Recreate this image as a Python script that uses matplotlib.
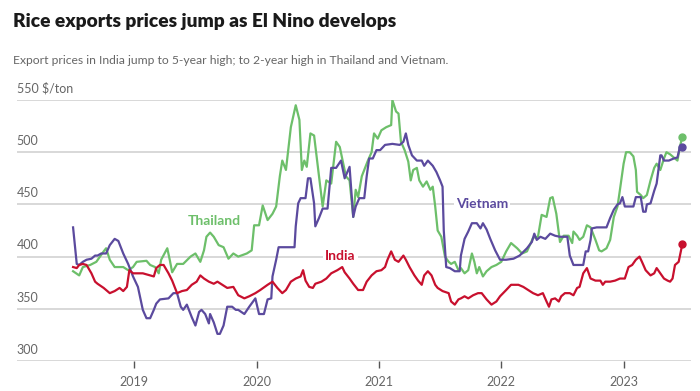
import matplotlib
matplotlib.use("Agg")
import matplotlib.pyplot as plt

# ---------------- data (decimal year, $/ton) ----------------
thai_t = [2018.50, 2018.55, 2018.58, 2018.64, 2018.69, 2018.75, 2018.77, 2018.80, 2018.84,
          2018.91, 2018.95, 2018.99, 2019.02, 2019.10, 2019.13, 2019.17, 2019.20, 2019.22,
          2019.27, 2019.29, 2019.31, 2019.35, 2019.40, 2019.46, 2019.50, 2019.54, 2019.57,
          2019.59, 2019.62, 2019.65, 2019.69, 2019.73, 2019.77, 2019.81, 2019.85, 2019.92,
          2019.96, 2019.98, 2020.02, 2020.05, 2020.09, 2020.13, 2020.16, 2020.19, 2020.21,
          2020.24, 2020.28, 2020.32, 2020.35, 2020.37, 2020.39, 2020.41, 2020.44, 2020.47,
          2020.51, 2020.54, 2020.57, 2020.61, 2020.65, 2020.68, 2020.73,
          2020.76, 2020.79, 2020.81, 2020.83, 2020.86, 2020.88, 2020.91, 2020.94, 2020.96,
          2020.99, 2021.02, 2021.06, 2021.10, 2021.11, 2021.14, 2021.16, 2021.18, 2021.21,
          2021.24, 2021.26, 2021.28, 2021.31, 2021.33, 2021.36, 2021.39, 2021.42, 2021.44,
          2021.46, 2021.48, 2021.51, 2021.54, 2021.57, 2021.59, 2021.62, 2021.65, 2021.67,
          2021.70, 2021.73, 2021.76, 2021.78, 2021.80, 2021.82, 2021.85, 2021.88, 2021.92,
          2021.96, 2022.00, 2022.04, 2022.08, 2022.13, 2022.17, 2022.21, 2022.26, 2022.30,
          2022.33, 2022.37, 2022.40, 2022.42, 2022.45, 2022.48, 2022.51, 2022.55, 2022.58,
          2022.59, 2022.62, 2022.64, 2022.67, 2022.70, 2022.73, 2022.77, 2022.80, 2022.82,
          2022.86, 2022.89, 2022.92, 2022.95, 2022.97, 2023.00, 2023.02, 2023.05, 2023.08,
          2023.10, 2023.11, 2023.14, 2023.16, 2023.19, 2023.22, 2023.25, 2023.27, 2023.30,
          2023.33, 2023.35, 2023.38, 2023.41, 2023.44, 2023.46, 2023.48]
thai_v = [386, 382, 390, 392, 395, 405, 408, 397, 390,
          390, 387, 390, 395, 396, 392, 390, 384, 397,
          408, 397, 385, 393, 393, 400, 403, 395, 406,
          419, 423, 419, 411, 409, 398, 403, 400, 403,
          406, 430, 430, 449, 435, 441, 448, 477, 492,
          483, 524, 545, 531, 483, 492, 486, 518, 516,
          477, 448, 473, 470, 510, 505, 477,
          473, 438, 464, 457, 477, 483, 492, 500, 518,
          513, 521, 524, 526, 550, 539, 537, 510, 502,
          491, 473, 483, 485, 473, 467, 472, 464, 467,
          448, 425, 419, 400, 395, 393, 395, 387, 389,
          384, 387, 403, 395, 384, 390, 381, 386, 390,
          392, 395, 405, 413, 408, 403, 405, 418, 419,
          440, 438, 456, 457, 441, 414, 420, 420, 413,
          424, 420, 416, 419, 430, 428, 416, 406, 405,
          408, 416, 438, 448, 464, 489, 500, 500, 496,
          483, 462, 459, 456, 459, 473, 485, 489, 483,
          494, 500, 498, 495, 492, 505, 515]

viet_t = [2018.50, 2018.53, 2018.55, 2018.58, 2018.61, 2018.65, 2018.68, 2018.70, 2018.73,
          2018.77, 2018.80, 2018.84, 2018.87, 2018.91, 2018.95, 2018.99, 2019.03, 2019.07,
          2019.10, 2019.13, 2019.16, 2019.18, 2019.21, 2019.28, 2019.32, 2019.35, 2019.38,
          2019.40, 2019.43, 2019.47, 2019.50, 2019.53, 2019.55, 2019.58, 2019.61, 2019.62,
          2019.65, 2019.68, 2019.70, 2019.73, 2019.76, 2019.80, 2019.83, 2019.85, 2019.90,
          2019.94, 2019.99, 2020.02, 2020.06, 2020.09, 2020.12, 2020.13, 2020.16, 2020.18,
          2020.21, 2020.31, 2020.32, 2020.34, 2020.36, 2020.40, 2020.42, 2020.44, 2020.47,
          2020.48, 2020.51, 2020.54, 2020.58, 2020.61, 2020.65, 2020.69, 2020.72,
          2020.76, 2020.79, 2020.81, 2020.84, 2020.88, 2020.90, 2020.92, 2020.95, 2020.98,
          2021.01, 2021.05, 2021.11, 2021.17, 2021.20, 2021.22, 2021.24, 2021.27, 2021.31,
          2021.35, 2021.37, 2021.40, 2021.44, 2021.47, 2021.50, 2021.52, 2021.53, 2021.55,
          2021.58, 2021.62, 2021.66, 2021.67, 2021.70, 2021.73, 2021.76, 2021.80, 2021.83,
          2021.85, 2021.88, 2021.91, 2021.95, 2021.99, 2022.04, 2022.10, 2022.15, 2022.21,
          2022.25, 2022.27, 2022.29, 2022.32, 2022.36, 2022.40, 2022.44, 2022.48, 2022.54,
          2022.56, 2022.59, 2022.64, 2022.67, 2022.69, 2022.71, 2022.73, 2022.74, 2022.78,
          2022.86, 2022.89, 2022.92, 2022.95, 2022.97, 2022.99, 2023.01, 2023.05, 2023.08,
          2023.10, 2023.14, 2023.16, 2023.18, 2023.19, 2023.22, 2023.25, 2023.27, 2023.30,
          2023.31, 2023.33, 2023.37, 2023.41, 2023.44, 2023.46, 2023.48]
viet_v = [428, 393, 392, 395, 397, 398, 401, 401, 403,
          403, 411, 417, 415, 403, 393, 381, 371, 349,
          341, 341, 349, 355, 359, 360, 365, 365, 352,
          349, 354, 342, 334, 347, 349, 345, 336, 345,
          337, 326, 326, 334, 352, 352, 349, 349, 345,
          352, 360, 345, 345, 359, 360, 381, 397, 409,
          409, 409, 429, 451, 456, 456, 475, 475, 451,
          429, 437, 446, 446, 485, 485, 492, 475,
          486, 438, 448, 456, 456, 477, 494, 494, 502,
          502, 507, 508, 507, 510, 518, 507, 497, 492,
          492, 487, 492, 487, 481, 473, 467, 425, 390,
          389, 386, 386, 401, 417, 424, 432, 432, 427,
          432, 426, 417, 406, 397, 397, 398, 401, 408,
          414, 422, 416, 419, 417, 422, 420, 419, 419,
          401, 392, 392, 392, 405, 405, 416, 427, 428,
          428, 437, 445, 450, 451, 457, 448, 448, 448,
          457, 457, 443, 443, 450, 451, 463, 470, 497,
          497, 492, 492, 494, 495, 505, 505]

india_t = [2018.50, 2018.53, 2018.55, 2018.58, 2018.61, 2018.65, 2018.68, 2018.70, 2018.75,
           2018.80, 2018.84, 2018.88, 2018.91, 2018.94, 2018.96, 2018.99, 2019.02, 2019.07,
           2019.13, 2019.16, 2019.18, 2019.21, 2019.24, 2019.28, 2019.31, 2019.35, 2019.39,
           2019.43, 2019.47, 2019.51, 2019.54, 2019.57, 2019.61, 2019.65, 2019.68, 2019.72,
           2019.76, 2019.81, 2019.85, 2019.90, 2019.94, 2019.99, 2020.03, 2020.09, 2020.13,
           2020.17, 2020.21, 2020.24, 2020.28, 2020.32, 2020.36, 2020.38, 2020.40, 2020.43,
           2020.46, 2020.48, 2020.53, 2020.57, 2020.61, 2020.66, 2020.70, 2020.72,
           2020.76, 2020.79, 2020.83, 2020.87, 2020.90, 2020.94, 2020.98, 2021.02, 2021.05,
           2021.07, 2021.10, 2021.13, 2021.16, 2021.18, 2021.20, 2021.22, 2021.25, 2021.29,
           2021.32, 2021.35, 2021.37, 2021.40, 2021.43, 2021.46, 2021.48, 2021.52, 2021.57,
           2021.59, 2021.62, 2021.65, 2021.67, 2021.70, 2021.73, 2021.77, 2021.81, 2021.84,
           2021.88, 2021.92, 2021.96, 2021.99, 2022.04, 2022.08, 2022.14, 2022.18, 2022.22,
           2022.26, 2022.30, 2022.34, 2022.37, 2022.39, 2022.41, 2022.44, 2022.47, 2022.49,
           2022.52, 2022.56, 2022.59, 2022.62, 2022.64, 2022.67, 2022.70, 2022.73, 2022.77,
           2022.81, 2022.83, 2022.85, 2022.89, 2022.93, 2022.97, 2023.01, 2023.04, 2023.07,
           2023.10, 2023.13, 2023.15, 2023.18, 2023.22, 2023.25, 2023.27, 2023.30, 2023.33,
           2023.36, 2023.38, 2023.40, 2023.42, 2023.45, 2023.48]
india_v = [390, 389, 392, 393, 392, 384, 376, 374, 370,
           365, 367, 370, 367, 371, 387, 384, 384, 384,
           382, 381, 389, 392, 392, 384, 377, 365, 367,
           368, 373, 376, 382, 379, 376, 374, 376, 373,
           370, 371, 363, 360, 362, 365, 368, 373, 376,
           370, 365, 368, 376, 379, 381, 387, 377, 371,
           370, 374, 376, 379, 384, 387, 390, 385,
           379, 374, 368, 368, 376, 382, 386, 387, 390,
           397, 405, 397, 395, 398, 401, 397, 390, 382,
           377, 373, 382, 386, 382, 373, 370, 367, 365,
           357, 354, 359, 360, 362, 360, 363, 365, 365,
           359, 354, 357, 362, 368, 373, 373, 371, 368,
           365, 363, 365, 357, 352, 359, 360, 357, 362,
           365, 365, 363, 370, 371, 384, 389, 379, 377,
           377, 373, 376, 376, 377, 379, 379, 390, 392,
           397, 400, 395, 387, 382, 384, 389, 384, 379,
           377, 376, 379, 392, 395, 412]

year_ticks = [2019, 2020, 2021, 2022, 2023]
y_ticks = [300, 350, 400, 450, 500, 550]

GREEN = "#6dbf6a"
PURPLE = "#5b4a9e"
RED = "#c8102e"
GRID = "#d6d6d6"
TXT = "#666666"
FONT = "Lato"

fig = plt.figure(figsize=(7.0, 3.91), dpi=100)
ax = fig.add_axes([0.024, 0.0767, 0.963, 0.6675])
ax.set_xlim(2018.04, 2023.55)
ax.set_ylim(300, 550)

for v in y_ticks:
    ax.axhline(v, color=GRID, lw=1.3, zorder=0)
    lab = f"{v} $/ton" if v == 550 else str(v)
    ax.text(0.0, v + 5, lab, transform=ax.get_yaxis_transform(), ha="left",
            va="bottom", fontsize=9, color=TXT, family=FONT)

for s in ax.spines.values():
    s.set_visible(False)
ax.set_yticks([])
ax.set_xticks(year_ticks)
ax.set_xticklabels([str(y) for y in year_ticks], fontsize=9, color=TXT, family=FONT)
ax.tick_params(axis="x", length=5, width=1, color="#555555", pad=6)

lw = 1.6
ax.plot(thai_t, thai_v, color=GREEN, lw=lw, zorder=3)
ax.plot(viet_t, viet_v, color=PURPLE, lw=lw, zorder=4)
ax.plot(india_t, india_v, color=RED, lw=lw, zorder=5)
ax.plot(thai_t[-1], thai_v[-1], "o", color=GREEN, ms=5, zorder=6)
ax.plot(viet_t[-1], viet_v[-1], "o", color=PURPLE, ms=5, zorder=6)
ax.plot(india_t[-1], india_v[-1], "o", color=RED, ms=5, zorder=6)

bbox = dict(facecolor="white", edgecolor="none", pad=1.5)
ax.text(2019.44, 434, "Thailand", color=GREEN, fontsize=10, fontweight="bold",
        family=FONT, ha="left", va="center", bbox=bbox, zorder=2)
ax.text(2020.56, 401, "India", color=RED, fontsize=10, fontweight="bold",
        family=FONT, ha="left", va="center", bbox=bbox, zorder=2)
ax.text(2021.63, 450, "Vietnam", color=PURPLE, fontsize=10, fontweight="bold",
        family=FONT, ha="left", va="center", bbox=bbox, zorder=2)

fig.text(0.018, 0.945, "Rice exports prices jump as El Nino develops", fontsize=13.8,
         fontweight="heavy", color="#1a1a1a", family=FONT, ha="left", va="center")
fig.text(0.018, 0.845, "Export prices in India jump to 5-year high; to 2-year high in Thailand and Vietnam.",
         fontsize=8.7, color=TXT, family=FONT, ha="left", va="center")

fig.savefig("out.png", dpi=100)
